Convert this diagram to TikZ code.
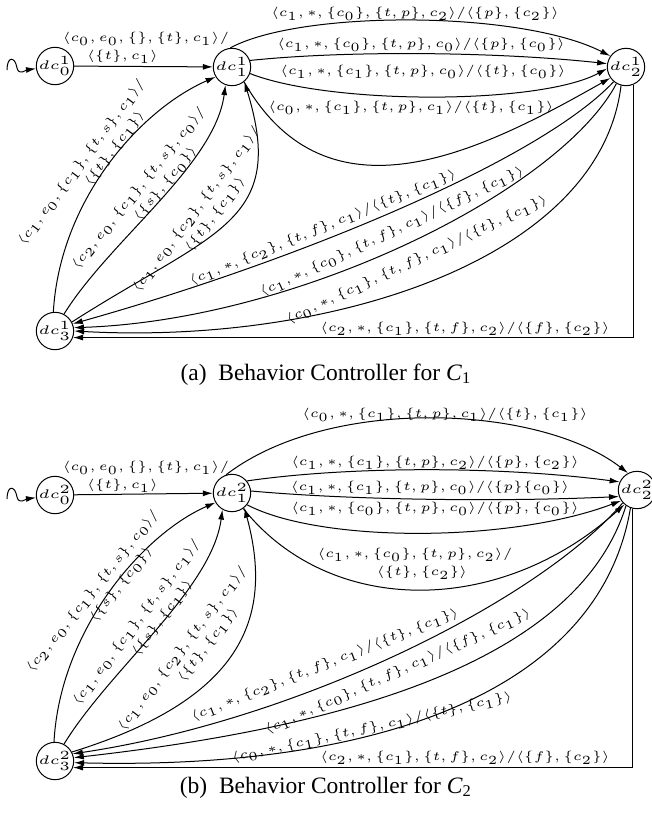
\documentclass[tikz,border=0pt]{standalone}
\usepackage[no-math]{fontspec}
\usepackage{amsmath}
\usepackage{amssymb}
\usepackage{graphicx}
\usepackage{tikz}
\usetikzlibrary{arrows.meta}
\newfontfamily\capfont{Liberation Serif}
\newcommand{\stl}[1]{\scalebox{1.06}[1]{$#1$}}
\newcommand{\stn}[1]{\scalebox{1.2}[1]{$#1$}}

\begin{document}
\begin{tikzpicture}[x=0.4pt,y=-0.4pt,
        state/.style={draw,circle,inner sep=0pt,minimum size=13.6pt,font=\fontsize{5}{6}\selectfont},
        lbl/.style={inner sep=0pt,font=\fontsize{5}{7.2}\selectfont,align=center},
        tr/.style={-{Latex[length=4pt,width=2.4pt]}},
        captext/.style={font=\capfont\fontsize{9.4}{11}\selectfont}]
        \useasboundingbox (0,0) rectangle (652,814);
        % (a) controller for C1
        \node[state] (a0) at (55,66) {\stn{dc^1_0}};
        \node[state] (a1) at (232,67) {\stn{dc^1_1}};
        \node[state] (a2) at (626,67) {\stn{dc^1_2}};
        \node[state] (a3) at (55,331) {\stn{dc^1_3}};
        \coordinate (a0in) at (7,70);
        \draw[tr] (a0in) .. controls (7,56) and (15,56) .. (17,68) .. controls (19,76) and (26,70) .. (a0);
        \draw[tr] (a0) -- (a1) node[lbl] at (146,48) {\stl{\langle c_0, e_0, \{\}, \{t\}, c_1\rangle/}\\\stl{\langle\{t\}, c_1\rangle}\kern18.8pt};
        \draw[tr] (a1.95) .. controls (300,10) and (520,10) .. (a2.145) node[lbl] at (415,14) {\stl{\langle c_1, *, \{c_0\}, \{t, p\}, c_2\rangle/\langle\{p\}, \{c_2\}\rangle}};
        \draw[tr] (a1.20) .. controls (350,50) and (500,52) .. (a2.170) node[lbl] at (421,45) {\stl{\langle c_1, *, \{c_0\}, \{t, p\}, c_0\rangle/\langle\{p\}, \{c_0\}\rangle}};
        \draw[tr] (a1.-20) .. controls (330,105) and (540,105) .. (a2.185) node[lbl] at (423,72) {\stl{\langle c_1, *, \{c_1\}, \{t, p\}, c_0\rangle/\langle\{t\}, \{c_0\}\rangle}};
        \draw[tr] (a1.-51) .. controls (328,228) and (480,152) .. (a2.215) node[lbl] at (411,108) {\stl{\langle c_0, *, \{c_1\}, \{t, p\}, c_1\rangle/\langle\{t\}, \{c_1\}\rangle}};
        \draw[tr] (a3.95) .. controls (60,200) and (140,110) .. (a1.211) node[lbl,rotate=53.3] at (89,168) {\stl{\langle c_1, e_0, \{c_1\}, \{t, s\}, c_1\rangle/}\\\kern24.8pt\stl{\langle\{t\}, \{c_1\}\rangle}};
        \draw[tr] (a3.62) .. controls (110,240) and (215,165) .. (a1.250) node[lbl,rotate=50.9] at (146,194) {\stl{\langle c_2, e_0, \{c_1\}, \{t, s\}, c_0\rangle/}\\\kern16pt\stl{\langle\{s\}, \{c_0\}\rangle}};
        \draw[tr] (a3.28) .. controls (214,231) and (288,223) .. (a1.-50) node[lbl,rotate=53.1] at (204,215) {\stl{\langle c_1, e_0, \{c_2\}, \{t, s\}, c_1\rangle/}\\\kern5.6pt\stl{\langle\{t\}, \{c_1\}\rangle}};
        \draw[tr] (a2.230) .. controls (540,160) and (300,260) .. (a3.22) node[lbl,rotate=22] at (323,228) {\stl{\langle c_1, *, \{c_2\}, \{t, f\}, c_1\rangle/\langle\{t\}, \{c_1\}\rangle}};
        \draw[tr] (a2.240) .. controls (560,190) and (300,320) .. (a3.10) node[lbl,rotate=25] at (392,232) {\stl{\langle c_1, *, \{c_0\}, \{t, f\}, c_1\rangle/\langle\{f\}, \{c_1\}\rangle}};
        \draw[tr] (a2.255) .. controls (600,260) and (330,345) .. (a3.0) node[lbl,rotate=25] at (417,260) {\stl{\langle c_0, *, \{c_1\}, \{t, f\}, c_1\rangle/\langle\{t\}, \{c_1\}\rangle}};
        \draw[tr] (a2.-67) |- (a3.-20) node[lbl] at (465,329) {\stl{\langle c_2, *, \{c_1\}, \{t, f\}, c_2\rangle/\langle\{f\}, \{c_2\}\rangle}};
        \node[captext] (capa) at (326,375) {(a)\enspace Behavior Controller for \textit{C}\textsubscript{1}};
        % (b) controller for C2
        \node[state] (b0) at (55,495) {\stn{dc^2_0}};
        \node[state] (b1) at (232,493) {\stn{dc^2_1}};
        \node[state] (b2) at (637,490) {\stn{dc^2_2}};
        \node[state] (b3) at (55,761) {\stn{dc^2_3}};
        \coordinate (b0in) at (7,499);
        \draw[tr] (b0in) .. controls (7,485) and (15,485) .. (17,497) .. controls (19,505) and (26,499) .. (b0);
        \draw[tr] (b0) -- (b1) node[lbl] at (146,477) {\stl{\langle c_0, e_0, \{\}, \{t\}, c_1\rangle/}\\\stl{\langle\{t\}, c_1\rangle}\kern18.8pt};
        \draw[tr] (b1.108) .. controls (330,395) and (540,405) .. (b2.118) node[lbl] at (445,415) {\stl{\langle c_0, *, \{c_1\}, \{t, p\}, c_1\rangle/\langle\{t\}, \{c_1\}\rangle}};
        \draw[tr] (b1.39) .. controls (350,466) and (500,466) .. (b2.155) node[lbl] at (435,463) {\stl{\langle c_1, *, \{c_1\}, \{t, p\}, c_2\rangle/\langle\{p\}, \{c_2\}\rangle}};
        \draw[tr] (b1.6) .. controls (350,500) and (500,502) .. (b2.200) node[lbl] at (430,488) {\stl{\langle c_1, *, \{c_1\}, \{t, p\}, c_0\rangle/\langle\{p\}\{c_0\}\rangle}};
        \draw[tr] (b1.-38) .. controls (320,543) and (510,543) .. (b2.214) node[lbl] at (435,509) {\stl{\langle c_1, *, \{c_0\}, \{t, p\}, c_0\rangle/\langle\{p\}, \{c_0\}\rangle}};
        \draw[tr] (b1.-54) .. controls (330,617) and (500,617) .. (b2.229) node[lbl] at (415,564) {\stl{\langle c_1, *, \{c_0\}, \{t, p\}, c_2\rangle/}\\\kern5.6pt\stl{\langle\{t\}, \{c_2\}\rangle}};
        \draw[tr] (b3.93) .. controls (60,630) and (143,534) .. (b1.210) node[lbl,rotate=51.3] at (100,597) {\stl{\langle c_2, e_0, \{c_1\}, \{t, s\}, c_0\rangle/}\\\kern18.4pt\stl{\langle\{s\}, \{c_0\}\rangle}};
        \draw[tr] (b3.62) .. controls (110,669) and (212,589) .. (b1.240) node[lbl,rotate=53.1] at (144,628) {\stl{\langle c_1, e_0, \{c_1\}, \{t, s\}, c_1\rangle/}\\\kern15.2pt\stl{\langle\{s\}, \{c_1\}\rangle}};
        \draw[tr] (b3.28) .. controls (240,700) and (275,620) .. (b1.-50) node[lbl,rotate=52.6] at (190,654) {\stl{\langle c_1, e_0, \{c_2\}, \{t, s\}, c_1\rangle/}\\\kern14.4pt\stl{\langle\{t\}, \{c_1\}\rangle}};
        \draw[tr] (b2.222) .. controls (540,600) and (300,720) .. (b3.22) node[lbl,rotate=21.5] at (325,665) {\stl{\langle c_1, *, \{c_2\}, \{t, f\}, c_1\rangle/\langle\{t\}, \{c_1\}\rangle}};
        \draw[tr] (b2.235) .. controls (575,670) and (320,730) .. (b3.10) node[lbl,rotate=24] at (398,672) {\stl{\langle c_1, *, \{c_0\}, \{t, f\}, c_1\rangle/\langle\{f\}, \{c_1\}\rangle}};
        \draw[tr] (b2.250) .. controls (600,690) and (380,770) .. (b3.-5) node[lbl,rotate=12.4] at (372,728) {\stl{\langle c_0, *, \{c_1\}, \{t, f\}, c_1\rangle/\langle\{t\}, \{c_1\}\rangle}};
        \draw[tr] (b2.-103) |- (b3.-20) node[lbl] at (465,758) {\stl{\langle c_2, *, \{c_1\}, \{t, f\}, c_2\rangle/\langle\{f\}, \{c_2\}\rangle}};
        \node[captext] (capb) at (326,788) {(b)\enspace Behavior Controller for \textit{C}\textsubscript{2}};
\end{tikzpicture}
\end{document}
